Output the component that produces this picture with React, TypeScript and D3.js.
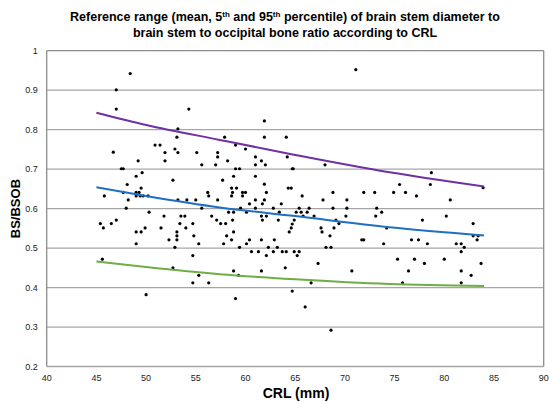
import React from 'react';
import * as d3 from 'd3';

// scatter: CRL (mm) and BS/BSOB ratio
const crlValues = [
  48.4, 47.0, 47.0, 54.3, 53.2, 53.1, 57.9, 46.7, 50.9, 51.4, 51.9, 52.9, 53.2, 55.1, 57.2, 57.2,
  58.2, 49.2, 51.9, 47.5, 47.7, 55.6, 57.0, 49.6, 49.0, 52.7, 57.7, 48.1, 49.5, 47.7, 49.0, 49.3,
  56.2, 45.8, 49.0, 49.4, 49.7, 50.2, 56.3, 48.2, 53.2, 54.1, 55.0, 57.2, 48.0, 55.6, 50.3, 51.8,
  53.5, 53.9, 56.6, 58.3, 45.4, 45.7, 46.5, 47.0, 49.0, 49.5, 49.9, 51.5, 53.4, 54.0, 54.7, 57.1,
  57.5, 58.0, 53.1, 53.1, 54.8, 58.1, 52.3, 53.1, 49.0, 55.3, 57.8, 52.9, 54.7, 45.6, 52.7, 55.3,
  54.7, 56.3, 50.0, 71.1, 61.9, 61.9, 64.1, 59.0, 60.0, 61.0, 61.0, 61.6, 62.0, 64.2, 59.0, 59.4,
  64.7, 64.8, 68.0, 58.8, 61.0, 58.6, 59.1, 61.9, 64.3, 64.6, 58.6, 58.7, 59.7, 59.7, 60.0, 62.1,
  65.7, 68.8, 71.9, 73.0, 61.0, 61.9, 60.4, 61.7, 63.6, 67.8, 70.2, 59.5, 61.0, 62.8, 65.4, 66.4,
  68.8, 70.2, 73.2, 58.8, 58.7, 60.1, 61.6, 62.1, 61.7, 63.4, 63.3, 65.1, 65.6, 65.8, 66.2, 66.9,
  64.9, 64.7, 64.6, 64.4, 58.8, 58.6, 59.4, 60.1, 60.4, 60.6, 61.3, 61.6, 62.1, 62.3, 62.8, 62.9,
  63.2, 63.7, 64.1, 64.9, 65.4, 65.2, 67.6, 67.7, 68.5, 68.9, 69.1, 69.4, 68.1, 68.6, 70.1, 73.1,
  73.7, 71.7, 71.9, 73.9, 74.2, 58.8, 59.3, 61.6, 64.0, 67.3, 70.7, 66.6, 64.7, 59.0, 66.0, 68.6,
  78.7, 78.6, 75.5, 74.9, 76.1, 77.2, 80.6, 83.9, 80.2, 77.8, 82.9, 82.9, 83.4, 83.3, 76.7, 77.4,
  78.3, 81.2, 81.7, 82.0, 81.7, 75.3, 77.0, 78.0, 80.0, 83.7, 76.4, 81.7, 82.7, 75.8, 81.7,
];
const ratioValues = [
  0.942, 0.901, 0.852, 0.852, 0.802, 0.781, 0.781, 0.743, 0.761, 0.761, 0.742, 0.751, 0.742, 0.742, 0.742, 0.731,
  0.721, 0.721, 0.721, 0.701, 0.701, 0.711, 0.711, 0.691, 0.682, 0.672, 0.672, 0.661, 0.652, 0.641, 0.641, 0.641,
  0.641, 0.632, 0.632, 0.632, 0.632, 0.632, 0.632, 0.622, 0.622, 0.622, 0.622, 0.622, 0.601, 0.601, 0.591, 0.581,
  0.581, 0.581, 0.581, 0.591, 0.562, 0.551, 0.562, 0.571, 0.541, 0.541, 0.551, 0.551, 0.562, 0.551, 0.562, 0.571,
  0.562, 0.562, 0.541, 0.531, 0.531, 0.531, 0.521, 0.521, 0.511, 0.511, 0.511, 0.502, 0.481, 0.472, 0.450, 0.431,
  0.412, 0.412, 0.382, 0.952, 0.822, 0.781, 0.781, 0.761, 0.751, 0.731, 0.711, 0.721, 0.711, 0.731, 0.701, 0.701,
  0.701, 0.701, 0.711, 0.682, 0.682, 0.652, 0.652, 0.662, 0.652, 0.652, 0.632, 0.641, 0.632, 0.641, 0.641, 0.641,
  0.632, 0.641, 0.641, 0.641, 0.622, 0.622, 0.612, 0.612, 0.612, 0.622, 0.622, 0.601, 0.601, 0.601, 0.601, 0.601,
  0.601, 0.601, 0.601, 0.591, 0.571, 0.591, 0.581, 0.581, 0.571, 0.591, 0.571, 0.591, 0.591, 0.581, 0.591, 0.581,
  0.571, 0.561, 0.551, 0.541, 0.541, 0.521, 0.502, 0.511, 0.521, 0.491, 0.491, 0.521, 0.481, 0.502, 0.491, 0.521,
  0.502, 0.491, 0.491, 0.491, 0.491, 0.481, 0.551, 0.541, 0.531, 0.551, 0.571, 0.562, 0.502, 0.502, 0.581, 0.581,
  0.591, 0.521, 0.521, 0.511, 0.551, 0.442, 0.431, 0.442, 0.450, 0.461, 0.442, 0.412, 0.391, 0.372, 0.351, 0.292,
  0.691, 0.661, 0.661, 0.641, 0.641, 0.632, 0.622, 0.653, 0.581, 0.571, 0.562, 0.531, 0.531, 0.521, 0.521, 0.521,
  0.511, 0.511, 0.511, 0.502, 0.491, 0.472, 0.472, 0.461, 0.472, 0.461, 0.442, 0.442, 0.431, 0.412, 0.412,
];

// reference curves (95th, mean, 5th) read at a few CRL points
const curveCrl = [45, 50, 57.4, 65, 74.5, 84];
const p95Values = [0.843, 0.812, 0.774, 0.736, 0.692, 0.656];
const meanValues = [0.654, 0.632, 0.603, 0.581, 0.553, 0.532];
const p5Values = [0.466, 0.452, 0.434, 0.421, 0.409, 0.404];

const xTicks = [40, 45, 50, 55, 60, 65, 70, 75, 80, 85, 90];
const yTicks = [0.2, 0.3, 0.4, 0.5, 0.6, 0.7, 0.8, 0.9, 1];

const W = 549;
const H = 404;
const left = 46.7, right = 543.7, top = 50.7, bottom = 366.5;
const font = 'Arial, "Liberation Sans", sans-serif';

export default function App() {
  const x = d3.scaleLinear().domain([40, 90]).range([left, right]);
  const y = d3.scaleLinear().domain([0.2, 1]).range([bottom, top]);

  const line = d3.line<number>()
    .x((_, i) => x(curveCrl[i]))
    .y(d => y(d))
    .curve(d3.curveMonotoneX);

  const curves = [
    { values: p95Values, color: '#7030a0' },
    { values: meanValues, color: '#1f6fc2' },
    { values: p5Values, color: '#70ad47' },
  ];

  return (
    <svg width={W} height={H} style={{ position: 'absolute', left: 0, top: 0, background: '#fff' }}
      fontFamily={font}>
      <rect x={0} y={0} width={W} height={H} fill="#fff" />
      <text x={285} y={20.5} textAnchor="middle" fontSize={12.5} fontWeight="bold" fill="#000">
        Reference range (mean, 5<tspan fontSize={8} dy={-4}>th</tspan>
        <tspan dy={4}> and 95</tspan><tspan fontSize={8} dy={-4}>th</tspan>
        <tspan dy={4}> percentile) of brain stem diameter to</tspan>
      </text>
      <text x={285} y={37} textAnchor="middle" fontSize={12.5} fontWeight="bold" fill="#000">
        brain stem to occipital bone ratio according to CRL
      </text>

      {yTicks.map(t => (
        <line key={'g' + t} x1={left} x2={right} y1={y(t)} y2={y(t)}
          stroke={t === 1 ? '#8c8c8c' : '#a6a6a6'} strokeWidth={1.3} />
      ))}
      <line x1={left} x2={left} y1={top} y2={bottom} stroke="#8c8c8c" strokeWidth={1.3} />
      <line x1={right} x2={right} y1={top} y2={bottom} stroke="#8c8c8c" strokeWidth={1.3} />

      {yTicks.map(t => (
        <text key={'yl' + t} x={left - 9} y={y(t)} dy="0.35em" textAnchor="end" fontSize={9} fill="#222">
          {d3.format('~g')(t)}
        </text>
      ))}
      {xTicks.map(t => (
        <text key={'xl' + t} x={x(t)} y={bottom + 14} textAnchor="middle" fontSize={9} fill="#222">
          {t}
        </text>
      ))}

      {crlValues.map((c, i) => (
        <circle key={'p' + i} cx={x(c)} cy={y(ratioValues[i])} r={1.6} fill="#000" />
      ))}

      {curves.map(c => (
        <path key={c.color} d={line(c.values) ?? ''} fill="none" stroke={c.color} strokeWidth={2} />
      ))}

      <text x={296} y={398} textAnchor="middle" fontSize={14} fontWeight="bold" fill="#000">CRL (mm)</text>
      <text transform={`translate(19.5, ${(top + bottom) / 2}) rotate(-90)`} textAnchor="middle"
        fontSize={13} fontWeight="bold" fill="#000">BS/BSOB</text>
    </svg>
  );
}
